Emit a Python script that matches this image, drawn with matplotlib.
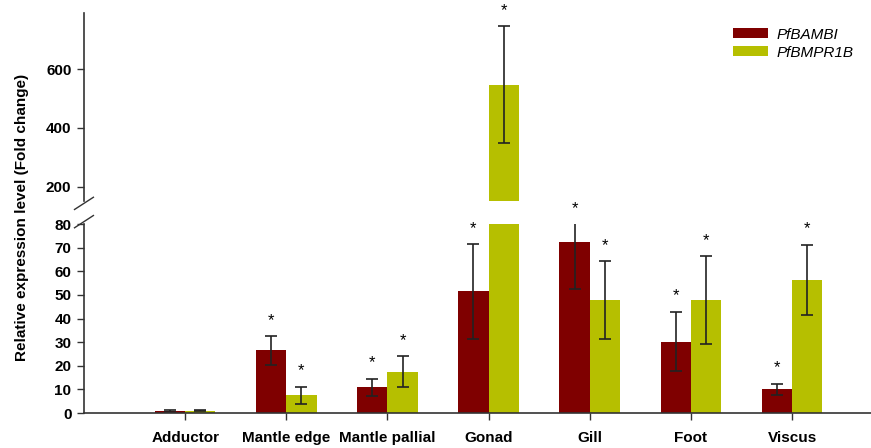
import matplotlib.pyplot as plt
import numpy as np

plt.rcParams['font.family'] = ['Liberation Sans', 'DejaVu Sans']

# tissues and expression data (mean fold change, error)
tissues = ['Adductor', 'Mantle edge', 'Mantle pallial', 'Gonad', 'Gill', 'Foot', 'Viscus']
bambi = [1.0, 26.5, 10.9, 51.5, 72.5, 30.2, 10.0]
bambi_err = [0.4, 6.0, 3.7, 20.0, 20.0, 12.6, 2.3]
bmpr1b = [1.0, 7.6, 17.5, 547.0, 47.7, 47.8, 56.3]
bmpr1b_err = [0.3, 3.6, 6.5, 199.0, 16.5, 18.5, 14.9]
genes = ['PfBAMBI', 'PfBMPR1B']
colors = ['#7f0000', '#b6bf00']

x = np.arange(len(tissues))
w = 0.3
low_top = 80
spine_col = '#333333'

fig = plt.figure(figsize=(8.71, 4.48), dpi=100)
ax_hi = fig.add_axes([0.0964, 0.5513, 0.9036, 0.4196])
ax_lo = fig.add_axes([0.0964, 0.0781, 0.9036, 0.4219])

for ax in (ax_hi, ax_lo):
    for vals, errs, off, c, lab in [(bambi, bambi_err, -w / 2, colors[0], genes[0]),
                                    (bmpr1b, bmpr1b_err, w / 2, colors[1], genes[1])]:
        ax.bar(x + off, vals, w, color=c, edgecolor='none', label=lab)
        ax.errorbar(x + off, vals, yerr=errs, fmt='none', ecolor='#222222',
                    elinewidth=1.2, capsize=4, capthick=1.2)
    for s in ['top', 'right']:
        ax.spines[s].set_visible(False)
    ax.spines['left'].set_color(spine_col)
    ax.spines['left'].set_linewidth(1.2)
    ax.tick_params(axis='y', colors=spine_col, width=1.0, length=5, pad=4,
                   labelcolor='black', labelsize=11)
    ax.set_xlim(-1, 6.78)

ax_lo.set_ylim(0, low_top)
ax_lo.set_yticks(range(0, 81, 10))
ax_hi.set_ylim(152, 790)
ax_hi.set_yticks([200, 400, 600])
for ax in (ax_hi, ax_lo):
    for t in ax.get_yticklabels():
        t.set_fontweight('bold')

ax_hi.spines['bottom'].set_visible(False)
ax_hi.set_xticks([])
ax_lo.spines['bottom'].set_color(spine_col)
ax_lo.spines['bottom'].set_linewidth(1.2)
ax_lo.set_xticks(x)
ax_lo.set_xticklabels(tissues, fontsize=11, fontweight='bold')
ax_lo.tick_params(axis='x', colors=spine_col, width=1.0, length=5, pad=8,
                  labelcolor='black')

# significance asterisks
for vals, errs, off in [(bambi, bambi_err, -w / 2), (bmpr1b, bmpr1b_err, w / 2)]:
    for i, (v, e) in enumerate(zip(vals, errs)):
        if i == 0:
            continue
        if v > low_top:
            ax, top = ax_hi, v + e
        else:
            ax, top = ax_lo, min(v + e, low_top)
        ax.annotate('*', (x[i] + off, top), xytext=(0, 6), textcoords='offset points',
                    ha='center', va='bottom', fontsize=12, annotation_clip=False)

# axis break marks
d = 0.012
kw = dict(color=spine_col, lw=1.0, clip_on=False)
ax_hi.plot([-d, d], [-0.045, 0.02], transform=ax_hi.transAxes, **kw)
ax_lo.plot([-d, d], [0.98, 1.045], transform=ax_lo.transAxes, **kw)

leg = ax_hi.legend(loc='upper right', bbox_to_anchor=(0.995, 0.995), frameon=False,
                   fontsize=11, handlelength=2.3, handleheight=0.65,
                   handletextpad=0.55, labelspacing=0.25)
for t in leg.get_texts():
    t.set_fontstyle('italic')

fig.text(0.025, 0.515, 'Relative expression level (Fold change)', rotation=90,
         ha='center', va='center', fontsize=11, fontweight='bold')

fig.savefig('out.png', dpi=100)
